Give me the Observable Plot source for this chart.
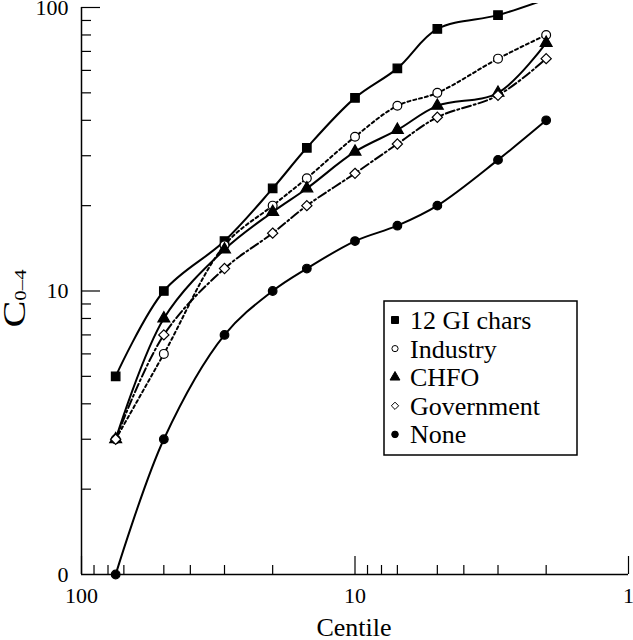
<!DOCTYPE html>
<html><head><meta charset="utf-8">
<script src="https://cdn.jsdelivr.net/npm/d3@7"></script>
<script src="https://cdn.jsdelivr.net/npm/@observablehq/plot@0.6"></script>
<style>html,body{margin:0;padding:0;background:#fff;} svg{display:block}
svg text{font-family:"Liberation Serif","Times New Roman",serif !important;}</style>
</head><body><div id="chart"></div>
<script>
// ---- data ----
const centiles = [75, 50, 30, 20, 15, 10, 7, 5, 3, 2];
const gi12 = [5, 10, 15, 23, 32, 48, 61, 84, 94, 107];   // last value runs off the top
const industry = [3, 6, 14.5, 20, 25, 35, 45, 50, 66, 80];
const chfo = [3, 8, 14, 19, 23, 31, 37, 45, 50, 75];
const government = [3, 7, 12, 16, 20, 26, 33, 41, 49, 66];
const none = [1, 3, 7, 10, 12, 15, 17, 20, 29, 40];
const seriesNames = ["12 GI chars", "Industry", "CHFO", "Government", "None"];
const xTickValues = [100, 10, 1];
const xTickLabels = ["100", "10", "1"];
const xMinorTicks = [90, 80, 70, 50, 40, 30, 20, 9, 8, 7, 5, 4, 3, 2];
const yTickValues = [100, 10, 1];
const yTickLabels = ["100", "10", "0"];
const yMinorTicks = [90, 80, 70, 60, 50, 40, 30, 20, 9, 8, 7, 6, 5, 4, 3, 2];

// ---- styles ----
const seriesValues = [gi12, industry, chfo, government, none];
const styles = [
  {symbol: "square", d3sym: d3.symbolSquare, fill: "black", dash: null, r: 4.8, lsize: 49},
  {symbol: "circle", d3sym: d3.symbolCircle, fill: "white", dash: "3,3", r: 4.4, lsize: 30},
  {symbol: "triangle", d3sym: d3.symbolTriangle, fill: "black", dash: null, r: 4.4, lsize: 42},
  {symbol: "diamond2", d3sym: d3.symbolDiamond2, fill: "white", dash: "9,3,2,3", r: 4.6, lsize: 34},
  {symbol: "circle", d3sym: d3.symbolCircle, fill: "black", dash: null, r: 4.3, lsize: 34}
];

const W = 633, H = 640, mL = 81, mR = 5, mT = 3, mB = 66;
const innerW = W - mL - mR, innerH = H - mT - mB;

const rows = seriesNames.flatMap((s, i) =>
  centiles.map((c, j) => ({series: s, idx: i, centile: c, value: seriesValues[i][j]})));

const marks = [];
seriesNames.forEach((s, i) => {
  const st = styles[i];
  const data = rows.filter(d => d.idx === i);
  marks.push(Plot.line(data, {x: "centile", y: "value", curve: "catmull-rom",
    stroke: "black", strokeWidth: 2, strokeDasharray: st.dash, clip: true}));
});
seriesNames.forEach((s, i) => {
  const st = styles[i];
  const data = rows.filter(d => d.idx === i && d.value <= 100);
  marks.push(Plot.dot(data, {x: "centile", y: "value", symbol: st.symbol, r: st.r,
    fill: st.fill, stroke: "black", strokeWidth: 1.2}));
});

// axes
marks.push(
  Plot.ruleY([1], {stroke: "black", strokeWidth: 1.5}),
  Plot.ruleX([100], {x: d => d, y1: 1, y2: 100, stroke: "black", strokeWidth: 1.5}),
  Plot.tickX(xMinorTicks, {x: d => d, insetTop: innerH - 9, stroke: "black", strokeWidth: 1.2}),
  Plot.tickX(xTickValues, {x: d => d, insetTop: innerH - 18, stroke: "black", strokeWidth: 1.2}),
  Plot.tickY(yMinorTicks, {y: d => d, insetRight: innerW - 10, stroke: "black", strokeWidth: 1.2}),
  Plot.tickY(yTickValues.filter(v => v > 1), {y: d => d, insetRight: innerW - 19, stroke: "black", strokeWidth: 1.2}),
  Plot.text(xTickValues, {x: d => d, text: (d, i) => xTickLabels[i], frameAnchor: "bottom",
    dy: 21, lineAnchor: "middle", fill: "black"}),
  Plot.text(yTickValues, {y: d => d, text: (d, i) => yTickLabels[i], frameAnchor: "left",
    textAnchor: "end", dx: -13, lineAnchor: "middle", fill: "black"})
);

const chart = Plot.plot({
  width: W, height: H,
  marginLeft: mL, marginRight: mR, marginTop: mT, marginBottom: mB,
  x: {type: "log", domain: [100, 1], axis: null},
  y: {type: "log", domain: [1, 103.3], axis: null},
  style: {fontFamily: "'Liberation Serif', 'Times New Roman', serif", fontSize: "22px", background: "white", color: "black", overflow: "visible"},
  marks
});
document.getElementById("chart").appendChild(chart);

const svg = d3.select(chart);
// axis titles
svg.append("text").attr("x", 354).attr("y", 636).attr("text-anchor", "middle")
  .attr("font-size", 26).attr("fill", "black").text("Centile");
const yt = svg.append("text")
  .attr("transform", "translate(25,298.5) rotate(-90) scale(1.3,1)")
  .attr("text-anchor", "middle").attr("fill", "black");
yt.append("tspan").attr("font-size", 31).text("C");
yt.append("tspan").attr("font-size", 16).attr("dy", 1).text("0–4");

// legend
const lg = svg.append("g");
lg.append("rect").attr("x", 384).attr("y", 301).attr("width", 193).attr("height", 154)
  .attr("fill", "white").attr("stroke", "black").attr("stroke-width", 1.5);
seriesNames.forEach((name, i) => {
  const yb = 329 + i * 28.6;
  const st = styles[i];
  lg.append("path").attr("d", d3.symbol(st.d3sym, st.lsize)())
    .attr("transform", `translate(395,${yb - 9})`)
    .attr("fill", st.fill).attr("stroke", "black").attr("stroke-width", 1);
  lg.append("text").attr("x", 410).attr("y", yb).attr("font-size", 26)
    .attr("text-anchor", "start").attr("fill", "black").text(name);
});
</script>
</body></html>
